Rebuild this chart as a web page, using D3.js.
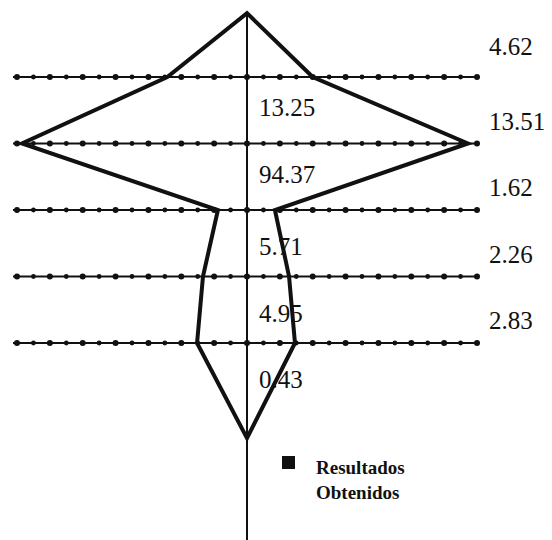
<!DOCTYPE html>
<html>
<head>
<meta charset="utf-8">
<script src="https://cdn.jsdelivr.net/npm/d3@7"></script>
<style>
  body { margin: 0; background: #fff; }
</style>
</head>
<body>
<div id="chart"></div>
<script>
// niveles (lineas horizontales) y sus etiquetas
const levels = [1, 2, 3, 4, 5];
const rightLabels = ['4.62', '13.51', '1.62', '2.26', '2.83'];
const innerLabels = ['13.25', '94.37', '5.71', '4.95', '0.43'];

// contorno de la figura: profundidad y semianchos izquierdo / derecho
const shapeDepth = [0, 1, 2, 3, 4, 5, 6.43];
const shapeRight = [0, 4.0, 13.45, 1.7, 2.56, 2.92, 0];
const shapeLeft = [0, 4.85, 13.7, 1.77, 2.68, 3.04, 0];

const tickValues = d3.range(-14, 15);
const legendLabel = ['Resultados', 'Obtenidos'];

const serif = '"Liberation Serif", "DejaVu Serif", "Times New Roman", serif';

function createChart() {
    const width = 552, height = 540;
    const container = d3.select('#chart');
    container.html('');

    const svg = container.append('svg')
        .attr('width', width)
        .attr('height', height)
        .style('display', 'block');

    const x = d3.scaleLinear().domain([-14, 14]).range([17, 477]);
    const y = d3.scaleLinear().domain([1, 5]).range([77, 343]);

    // eje vertical central
    svg.append('line')
        .attr('x1', x(0)).attr('x2', x(0))
        .attr('y1', y(0.04)).attr('y2', height)
        .attr('stroke', '#111')
        .attr('stroke-width', 2);

    // lineas horizontales con marcas
    const rows = svg.selectAll('.row')
        .data(levels)
        .enter()
        .append('g')
        .attr('class', 'row');

    rows.append('line')
        .attr('x1', x(-14) - 4).attr('x2', x(14))
        .attr('y1', d => y(d)).attr('y2', d => y(d))
        .attr('stroke', '#111')
        .attr('stroke-width', 2);

    rows.each(function(lv) {
        d3.select(this).selectAll('circle')
            .data(tickValues)
            .enter()
            .append('circle')
            .attr('cx', t => x(t))
            .attr('cy', y(lv))
            .attr('r', (t, i) => i % 2 ? 2.4 : 3)
            .attr('fill', '#111');
    });

    // figura
    const pts = [];
    shapeDepth.forEach((d, i) => pts.push([x(shapeRight[i]), y(d === 0 ? 0.04 : d)]));
    for (let i = shapeDepth.length - 2; i > 0; i--) {
        pts.push([x(-shapeLeft[i]), y(shapeDepth[i])]);
    }

    svg.append('path')
        .attr('d', d3.line()(pts) + 'Z')
        .attr('fill', 'none')
        .attr('stroke', '#111')
        .attr('stroke-width', 4)
        .attr('stroke-linejoin', 'miter');

    // etiquetas a la derecha
    svg.selectAll('.rlabel')
        .data(rightLabels)
        .enter()
        .append('text')
        .attr('class', 'rlabel')
        .attr('x', 489)
        .attr('y', (d, i) => y(levels[i]) - (i === 0 ? 22 : 14))
        .attr('font-family', serif)
        .style('font-size', '25px')
        .attr('fill', '#111')
        .text(d => d);

    // etiquetas interiores
    svg.selectAll('.ilabel')
        .data(innerLabels)
        .enter()
        .append('text')
        .attr('class', 'ilabel')
        .attr('x', x(0) + 12)
        .attr('y', (d, i) => y(levels[i] + 0.5) + (i < 2 ? 6 : 12))
        .attr('font-family', serif)
        .style('font-size', '25px')
        .attr('fill', '#111')
        .text(d => d);

    // leyenda
    svg.append('rect')
        .attr('x', 282).attr('y', 456)
        .attr('width', 13).attr('height', 13)
        .attr('fill', '#111');

    svg.append('text')
        .attr('x', 316)
        .attr('y', 474)
        .attr('font-family', serif)
        .style('font-size', '19px')
        .style('font-weight', 'bold')
        .attr('fill', '#111')
        .selectAll('tspan')
        .data(legendLabel)
        .enter()
        .append('tspan')
        .attr('x', 316)
        .attr('dy', (d, i) => i ? 25 : 0)
        .text(d => d);
}

createChart();
</script>
</body>
</html>
